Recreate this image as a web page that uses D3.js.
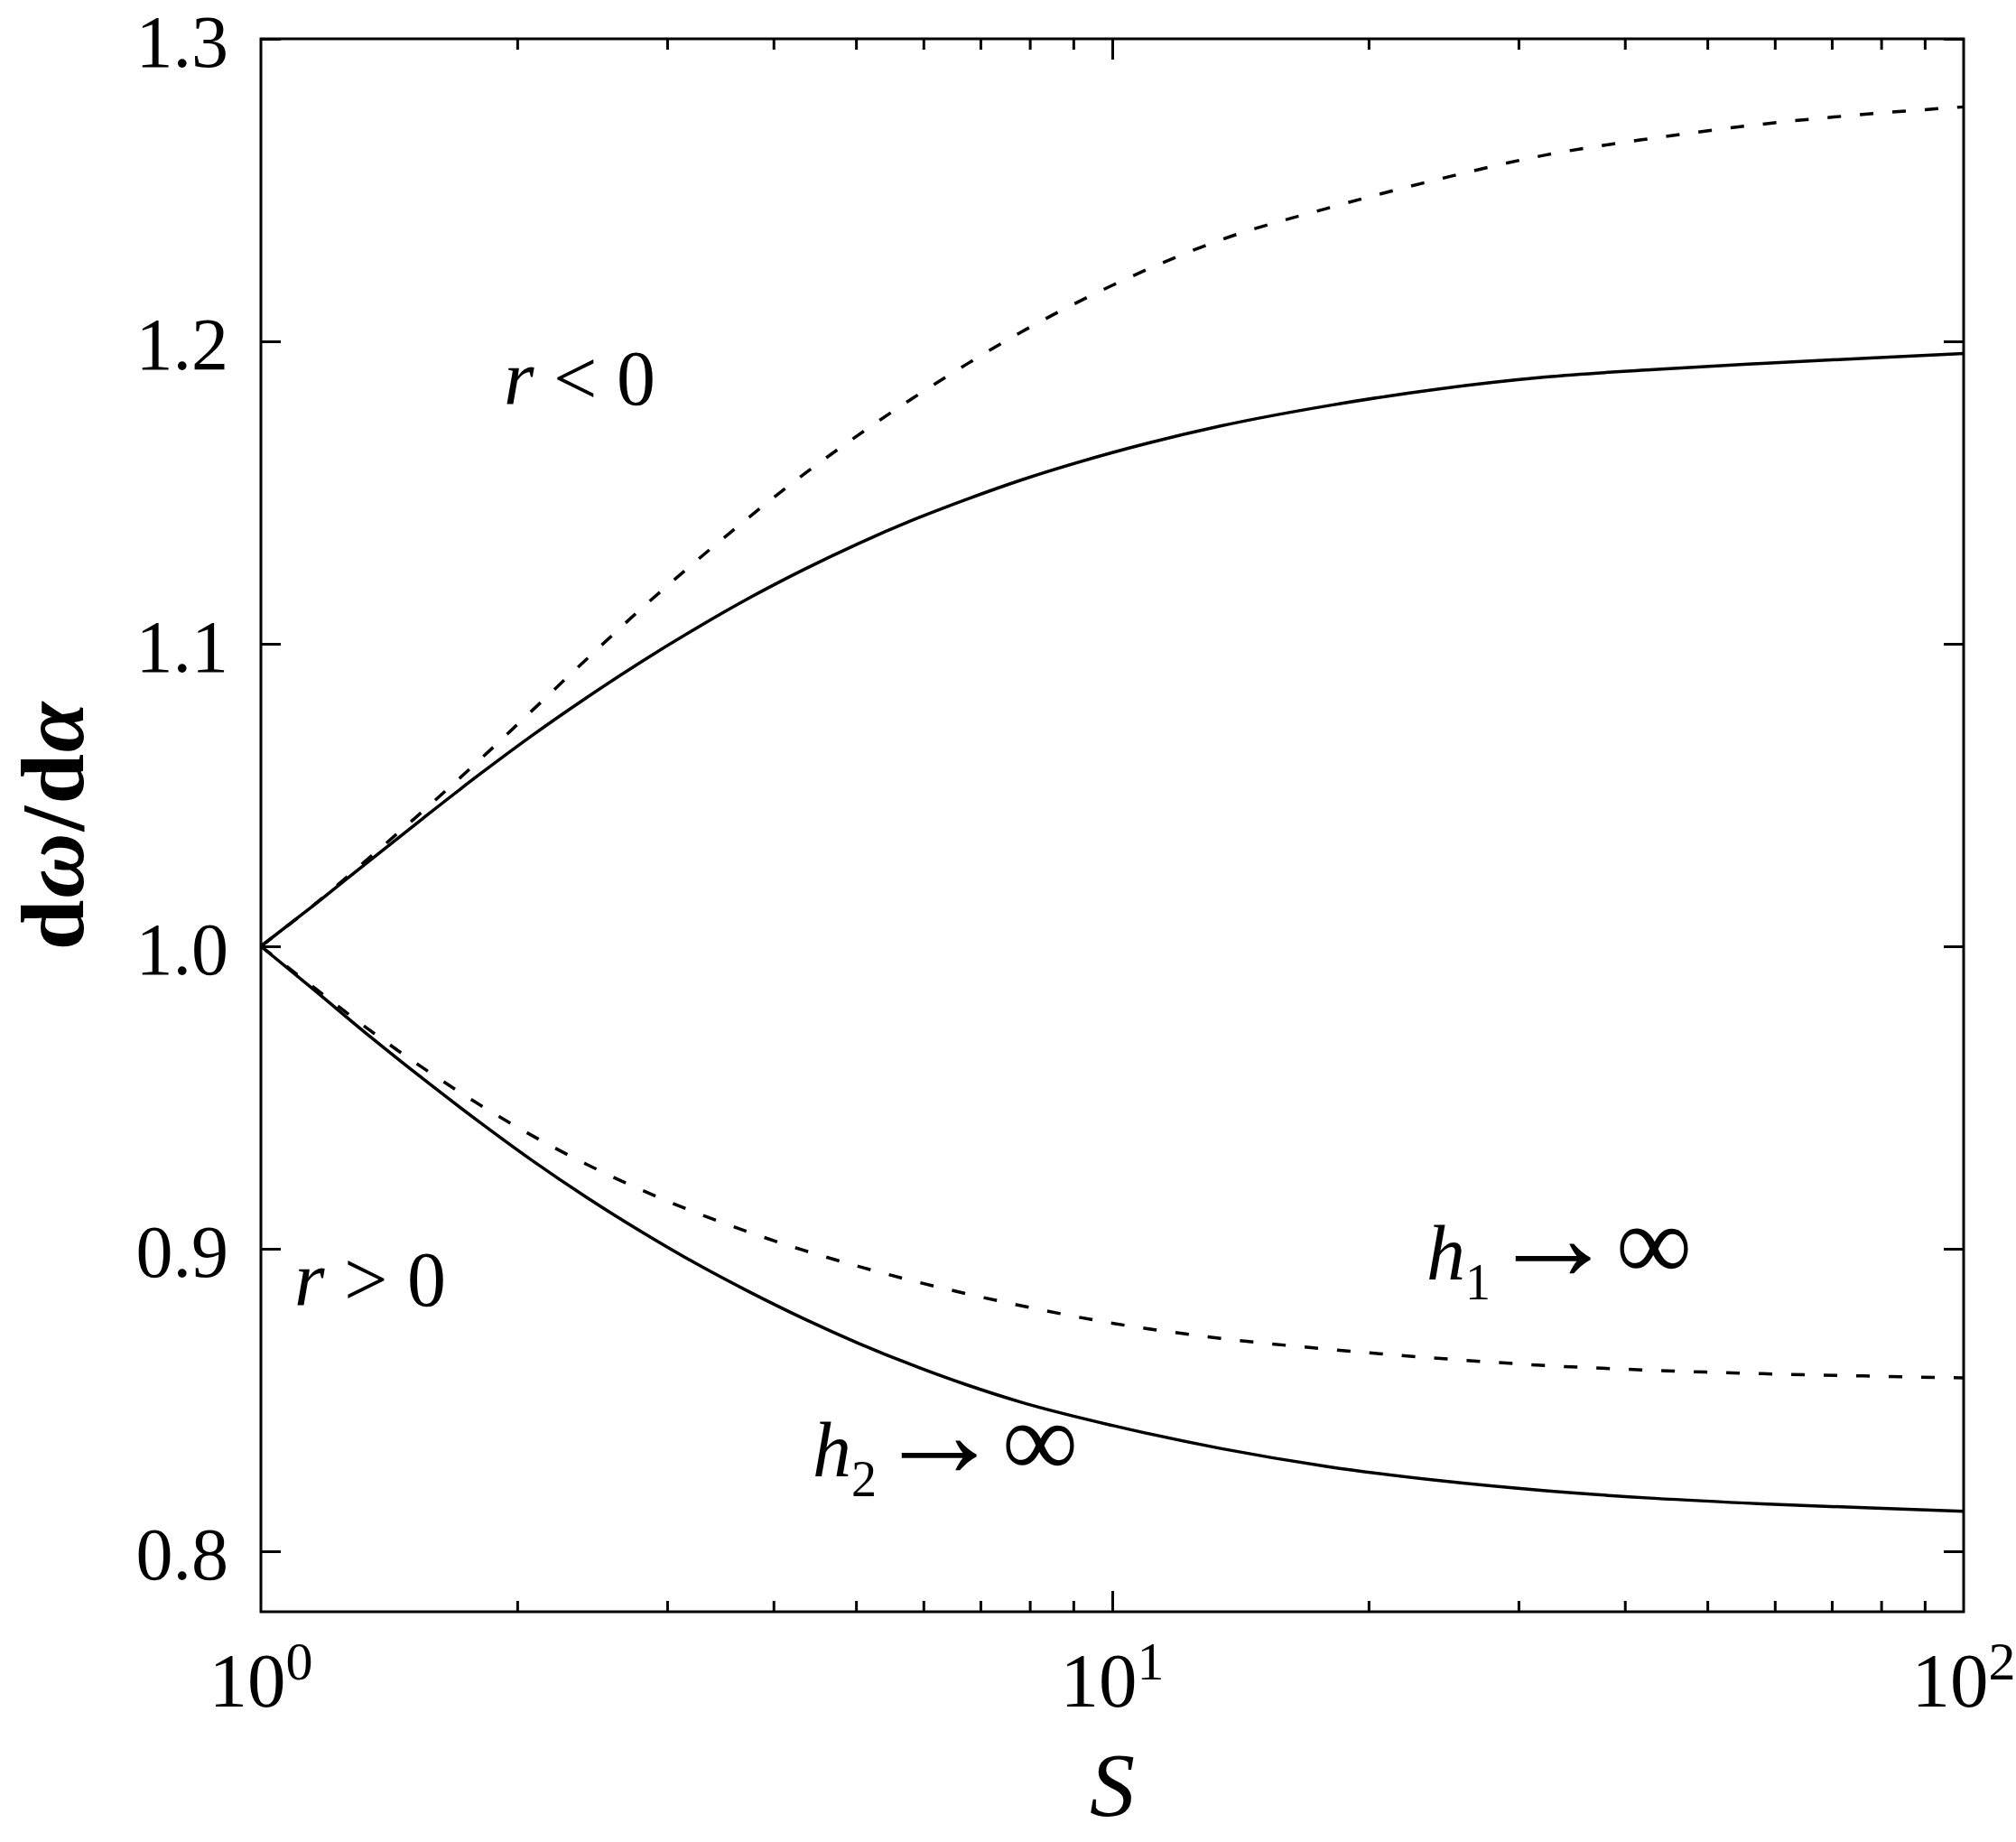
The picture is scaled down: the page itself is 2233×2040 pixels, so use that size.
<!DOCTYPE html>
<html>
<head>
<meta charset="utf-8">
<script src="https://d3js.org/d3.v7.min.js"></script>
<style>
  body { margin: 0; background: #fff; }
  svg text { font-family: "Liberation Serif", "Times New Roman", serif; fill: #000; }
</style>
</head>
<body>
<div id="chart"></div>
<script>
// S grid
var sValues = [1, 1.16, 1.34, 1.55, 1.8, 2.08, 2.41, 2.8, 3.24, 3.75, 4.34, 5.03, 5.83, 6.75, 7.81,
               10, 13.4, 17.9, 24.1, 32.3, 43.3, 58, 77.7, 100];

// dω/dα, r < 0 branch
var solidUpper  = [1.0, 1.0141, 1.0282, 1.0423, 1.0565, 1.0696, 1.0821, 1.0941, 1.105, 1.1152, 1.1245, 1.1331, 1.1409, 1.1478, 1.1541,
                   1.1632, 1.172, 1.1787, 1.1842, 1.1882, 1.1907, 1.1927, 1.1945, 1.196];
var dashedUpper = [1.0, 1.0142, 1.0292, 1.0447, 1.0612, 1.0778, 1.0948, 1.1117, 1.1272, 1.142, 1.156, 1.169, 1.1812, 1.1925, 1.203,
                   1.2185, 1.2335, 1.244, 1.2535, 1.2616, 1.2672, 1.2718, 1.2752, 1.2775];

// dω/dα, r > 0 branch
var solidLower  = [1.0, 0.9851, 0.9704, 0.9562, 0.9422, 0.9293, 0.9171, 0.9056, 0.8952, 0.8857, 0.8769, 0.8688, 0.8615, 0.855, 0.8493,
                   0.8416, 0.834, 0.828, 0.8234, 0.82, 0.8175, 0.8157, 0.8143, 0.8132];
var dashedLower = [1.0, 0.9859, 0.9724, 0.9598, 0.9479, 0.9375, 0.928, 0.9194, 0.912, 0.9054, 0.8995, 0.8942, 0.8894, 0.8851, 0.8812,
                   0.8754, 0.8704, 0.8668, 0.8638, 0.8614, 0.8598, 0.8587, 0.8579, 0.8573];

var xMajor = [1, 10, 100];
var xMinor = [2, 3, 4, 5, 6, 7, 8, 9, 20, 30, 40, 50, 60, 70, 80, 90];
var yTicks = [0.8, 0.9, 1.0, 1.1, 1.2, 1.3];

const w = 2233;
const h = 2040;
const margin = { left: 289, right: 58, top: 43, bottom: 255 };
const x0 = margin.left, x1 = w - margin.right;
const y0 = h - margin.bottom, y1 = margin.top;

const svg = d3.select("#chart")
              .append("svg")
              .attr("width", w)
              .attr("height", h);

const xScale = d3.scaleLog().domain([1, 100]).range([x0, x1]);
const yScale = d3.scaleLinear().domain([0.78, 1.3]).range([y0, y1]);

// ticks, all pointing inward
function tickStyle(g) {
  g.select(".domain").remove();
  g.selectAll("line").attr("stroke", "#000").attr("stroke-width", 3);
}

svg.append("g").attr("transform", "translate(0," + y0 + ")")
   .call(d3.axisBottom(xScale).tickValues(xMinor).tickSize(-12).tickFormat(""))
   .call(tickStyle);
svg.append("g").attr("transform", "translate(0," + y0 + ")")
   .call(d3.axisBottom(xScale).tickValues([10]).tickSize(-23).tickFormat(""))
   .call(tickStyle);
svg.append("g").attr("transform", "translate(0," + y1 + ")")
   .call(d3.axisTop(xScale).tickValues(xMinor).tickSize(-12).tickFormat(""))
   .call(tickStyle);
svg.append("g").attr("transform", "translate(0," + y1 + ")")
   .call(d3.axisTop(xScale).tickValues([10]).tickSize(-23).tickFormat(""))
   .call(tickStyle);

svg.append("g").attr("transform", "translate(" + x0 + ",0)")
   .call(d3.axisLeft(yScale).tickValues(yTicks).tickSize(-22).tickPadding(36).tickFormat(d3.format(".1f")))
   .call(tickStyle)
   .selectAll("text")
   .attr("font-size", 82)
   .attr("dy", "0.37em")
   .attr("font-family", null);
svg.append("g").attr("transform", "translate(" + x1 + ",0)")
   .call(d3.axisRight(yScale).tickValues(yTicks).tickSize(-22).tickFormat(""))
   .call(tickStyle);

// x tick labels as powers of ten
xMajor.forEach(function(v) {
  var t = svg.append("text")
             .attr("x", xScale(v))
             .attr("y", y0 + 105)
             .attr("text-anchor", "middle")
             .attr("font-size", 85);
  t.append("tspan").text("10");
  t.append("tspan").attr("font-size", 60).attr("dy", -30).text(Math.round(Math.log10(v)));
});

// curves
var line = d3.line()
             .x(function(d) { return xScale(d[0]); })
             .y(function(d) { return yScale(d[1]); })
             .curve(d3.curveMonotoneX);

function addCurve(vals, dashed) {
  svg.append("path")
     .datum(sValues.map(function(s, i) { return [s, vals[i]]; }))
     .attr("d", line)
     .attr("fill", "none")
     .attr("stroke", "#000")
     .attr("stroke-width", 3.5)
     .attr("stroke-dasharray", dashed ? "15,21" : null);
}
addCurve(solidUpper, false);
addCurve(dashedUpper, true);
addCurve(solidLower, false);
addCurve(dashedLower, true);

// frame
svg.append("rect")
   .attr("x", x0).attr("y", y1)
   .attr("width", x1 - x0).attr("height", y0 - y1)
   .attr("fill", "none")
   .attr("stroke", "#000")
   .attr("stroke-width", 3);

// axis titles
var yt = svg.append("text")
            .attr("transform", "translate(92,914) rotate(-90)")
            .attr("text-anchor", "middle")
            .attr("font-size", 100)
            .attr("letter-spacing", 2)
            .attr("font-weight", "bold");
yt.append("tspan").text("d");
yt.append("tspan").attr("font-style", "italic").text("ω");
yt.append("tspan").text("/d");
yt.append("tspan").attr("font-style", "italic").text("α");

svg.append("text")
   .attr("x", (x0 + x1) / 2)
   .attr("y", 2010)
   .attr("text-anchor", "middle")
   .attr("font-size", 100)
   .attr("font-style", "italic")
   .text("S");

// region labels
function rLabel(px, py, rest) {
  var t = svg.append("text").attr("x", px).attr("y", py).attr("font-size", 86);
  t.append("tspan").attr("font-style", "italic").text("r");
  t.append("tspan").text(rest);
}
rLabel(558, 448, " < 0");
rLabel(326, 1446, " > 0");

function hLabel(px, py, sub) {
  var t = svg.append("text").attr("x", px).attr("y", py).attr("font-size", 86);
  t.append("tspan").attr("font-style", "italic").text("h");
  t.append("tspan").attr("font-size", 56).attr("dy", 22).text(sub);
  t.append("tspan").attr("x", px + 70).attr("dy", -22)
   .attr("font-size", 140).text("\u2192");
  t.append("tspan").attr("x", px + 210).attr("font-size", 118).text("\u221E");
}
hLabel(1580, 1417, "1");
hLabel(900, 1635, "2");
</script>
</body>
</html>
